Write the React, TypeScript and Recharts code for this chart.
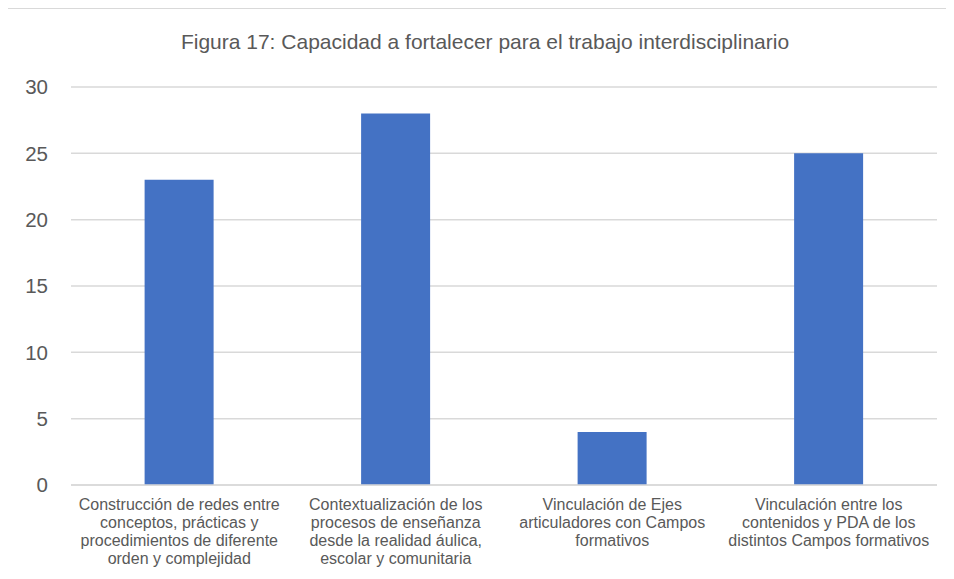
import React from "react";
import { BarChart, Bar, XAxis, YAxis, CartesianGrid } from "recharts";

const categoryLines: string[][] = [
  ["Construcción de redes entre", "conceptos, prácticas y", "procedimientos de diferente", "orden y complejidad"],
  ["Contextualización de los", "procesos de enseñanza", "desde la realidad áulica,", "escolar y comunitaria"],
  ["Vinculación de Ejes", "articuladores con Campos", "formativos"],
  ["Vinculación entre los", "contenidos y PDA de los", "distintos Campos formativos"],
];
const categories: string[] = categoryLines.map((l) => l.join(" "));
const values: number[] = [23, 28, 4, 25];
const yTicks: number[] = [0, 5, 10, 15, 20, 25, 30];
const title = "Figura 17: Capacidad a fortalecer para el trabajo interdisciplinario";

const data = categories.map((c, i) => ({ name: c, value: values[i], idx: i }));

const CatTick = (props: any) => {
  const { x, y, index } = props;
  const lines = categoryLines[index] || [];
  return (
    <text x={x} y={y} textAnchor="middle" fill="#595959" fontSize={16} fontFamily="Liberation Sans, Arial, sans-serif">
      {lines.map((l, i) => (
        <tspan key={i} x={x} dy={i === 0 ? 19 : 18}>
          {l}
        </tspan>
      ))}
    </text>
  );
};

export default function App() {
  return (
    <div style={{ margin: -8, width: 954, height: 579, overflow: "hidden", position: "relative", background: "#fff" }}>
      <div
        style={{
          position: "absolute",
          left: 0,
          width: 954,
          top: 30,
          textAlign: "center",
          fontFamily: "Liberation Sans, Arial, sans-serif",
          fontSize: 21,
          lineHeight: "24px",
          color: "#595959",
          paddingLeft: 16,
          boxSizing: "border-box",
        }}
      >
        {title}
      </div>
      <div style={{ position: "absolute", left: 0, top: 0 }}>
        <BarChart width={954} height={579} data={data} margin={{ top: 87, right: 17, left: 0, bottom: 0 }} barCategoryGap="34%">
          <CartesianGrid vertical={false} stroke="#d9d9d9" strokeWidth={1.5} />
          <XAxis
            dataKey="name"
            axisLine={{ stroke: "#d9d9d9", strokeWidth: 1.5 }}
            tickLine={false}
            interval={0}
            tick={<CatTick />}
            tickSize={0}
            tickMargin={6}
            height={94}
          />
          <YAxis
            width={71}
            domain={[0, 30]}
            ticks={yTicks}
            axisLine={false}
            tickLine={false}
            tickSize={0}
            tickMargin={23}
            tick={{ fill: "#595959", fontSize: 20.5, fontFamily: "Liberation Sans, Arial, sans-serif" }}
          />
          <Bar dataKey="value" fill="#4472c4" isAnimationActive={false} />
        </BarChart>
      </div>
      <div
        style={{
          position: "absolute",
          left: 6,
          top: 7,
          width: 1200,
          height: 1200,
          borderLeft: "2px solid #d0d0d0",
          borderTop: "2px solid #d9d9d9",
          boxSizing: "border-box",
          pointerEvents: "none",
        }}
      />
    </div>
  );
}
